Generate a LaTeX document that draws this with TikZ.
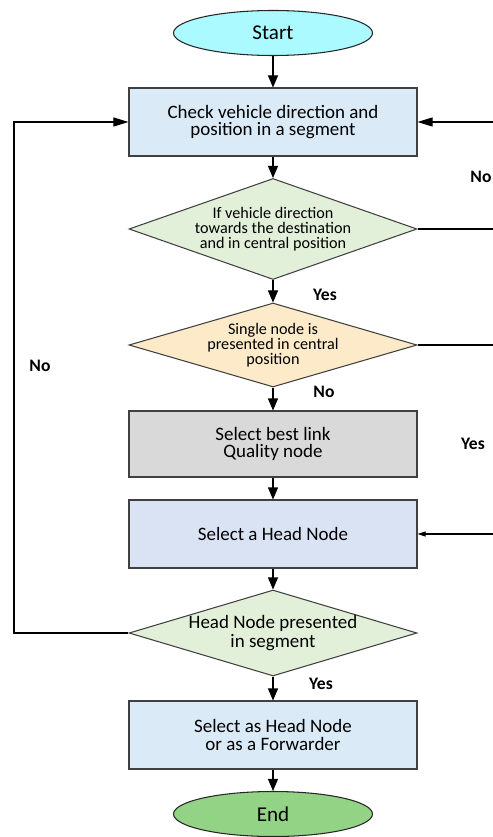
\documentclass[tikz,border=0pt]{standalone}
\usepackage{fontspec}
\setmainfont{Carlito}
\usepackage{tikz}
\usetikzlibrary{shapes.geometric, arrows.meta}
\tikzset{>={Triangle[length=2.4mm, width=2mm]}}
\definecolor{mycyan}{RGB}{170, 250, 255}
\definecolor{myblue1}{RGB}{218, 234, 247}
\definecolor{mygreen1}{RGB}{226, 240, 217}
\definecolor{myyellow}{RGB}{252, 234, 200}
\definecolor{mygray2}{RGB}{217, 217, 217}
\definecolor{myblue2}{RGB}{218, 227, 243}
\definecolor{mygreen2}{RGB}{147, 211, 133}
\tikzset{
  term/.style = {ellipse, draw = black!85, minimum width = 39.8mm, minimum height = 9mm, font = \fontsize{12}{14}\selectfont},
  procbox/.style = {rectangle, draw = black!75, minimum width = 57.6mm, minimum height = 13.6mm, align = center, font = \fontsize{10.8}{10}\selectfont},
  decide/.style = {diamond, draw = black!75, inner sep = 0pt, minimum width = 57.6mm, align = center, font = \fontsize{9.2}{8.6}\selectfont},
  answer/.style = {font = \fontsize{10}{12}\selectfont\bfseries}
}

\begin{document}
\begin{tikzpicture}[x = 0.2mm, y = -0.2mm, line width = 0.6pt]
\useasboundingbox (0,0) rectangle (493,837);
\node[term, fill = mycyan] (start) at (273,33) {Start};
\node[procbox, fill = myblue1] (check) at (273,122) {Check vehicle direction and\\position in a segment};
\node[decide, fill = mygreen1, aspect = 2.85, minimum height = 20.2mm] (dir) at (273,229) {If vehicle direction\\towards the destination\\and in central position};
\node[decide, fill = myyellow, aspect = 3.43, minimum height = 16.8mm] (single) at (273,345) {Single node is\\presented in central\\position};
\node[procbox, fill = mygray2, minimum height = 13.2mm] (best) at (273,444) {Select best link\\Quality node};
\node[procbox, fill = myblue2] (head) at (273,534) {Select a Head Node};
\node[decide, fill = mygreen1, aspect = 3.35, minimum height = 17.2mm, font = \fontsize{10.8}{10.5}\selectfont] (present) at (273,633) {Head Node presented\\in segment};
\node[procbox, fill = myblue1] (final) at (273,735) {Select as Head Node\\or as a Forwarder};
\node[term, fill = mygreen2] (end) at (273,814) {End};
\coordinate (edge) at (496,0);
\coordinate (loop) at (14,633);
\draw[->] (start) -- (check);
\draw[->] (check) -- (dir);
\draw[->] (dir) -- (single);
\draw[->] (single) -- (best);
\draw[->] (best) -- (head);
\draw[->] (head) -- (present);
\draw[->] (present) -- (final);
\draw[->] (final) -- (end);
\draw[-{Triangle[length=3mm, width=1.8mm]}] (present.west) -- (loop) |- (check.west);
\draw[-{Triangle[length=3mm, width=1.8mm]}] (check.east -| edge) -- (check.east);
\draw (dir.east) -- (dir.east -| edge);
\draw (single.east) -- (single.east -| edge);
\draw[-{Triangle[length=1.6mm, width=1mm]}] (head.east -| edge) -- (head.east);
\node[answer] (noA) at (481,177) {No};
\node[answer] (yesA) at (325,295) {Yes};
\node[answer] (noB) at (324,392) {No};
\node[answer] (noC) at (40,366) {No};
\node[answer] (yesB) at (473,444) {Yes};
\node[answer] (yesC) at (321,684) {Yes};
\end{tikzpicture}
\end{document}
